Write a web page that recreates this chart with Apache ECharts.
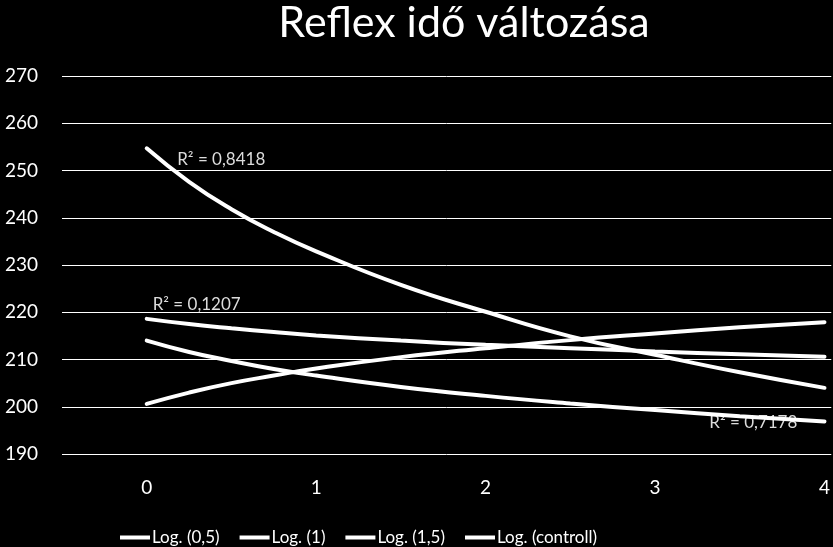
<!DOCTYPE html>
<html>
<head>
<meta charset="utf-8">
<script src="https://cdn.jsdelivr.net/npm/echarts@6/dist/echarts.min.js"></script>
<style>
    html, body { margin: 0; padding: 0; background: #000; }
    #chart { width: 833px; height: 547px; }
</style>
</head>
<body>
<div id="chart"></div>
<script>
// x positions
var xs = [0, 0.25, 0.5, 0.75, 1, 1.5, 2, 2.5, 3, 3.5, 4];
var xTicks = [0, 1, 2, 3, 4];

// trendline values
var log05 = [254.7, 247.6, 241.8, 237.0, 232.9, 225.8, 220.1, 214.9, 211.0, 207.3, 204.0];
var log1 = [218.6, 217.5, 216.6, 215.8, 215.1, 214.0, 213.1, 212.4, 211.7, 211.1, 210.6];
var log15 = [214.0, 211.6, 209.7, 208.0, 206.6, 204.2, 202.3, 200.7, 199.3, 198.0, 196.9];
var logCtrl = [200.6, 203.0, 205.0, 206.6, 208.1, 210.5, 212.4, 214.1, 215.5, 216.8, 217.9];

var names = ['Log. (0,5)', 'Log. (1)', 'Log. (1,5)', 'Log. (controll)'];
var r2Text = ['R² = 0,8418', 'R² = 0,1207', 'R² = 0,7178', null];
var r2At = [[0.18, 252.3], [0.035, 221.6], [3.32, 196.6], null];

var font = 'Lato, "Open Sans", sans-serif';

function pairs(vals) {
    return xs.map(function (x, i) { return [x, vals[i]]; });
}

var chart = echarts.init(document.getElementById('chart'));

var series = [log05, log1, log15, logCtrl].map(function (vals, i) {
    var s = {
        name: names[i],
        type: 'line',
        data: pairs(vals),
        smooth: true,
        symbol: 'none',
        lineStyle: { color: '#fff', width: 4, cap: 'round' },
        itemStyle: { color: '#fff' },
        z: 3
    };
    if (r2Text[i]) {
        s.markPoint = {
            symbol: 'circle',
            symbolSize: 0,
            silent: true,
            z: 2,
            label: {
                show: true,
                position: 'right',
                distance: 0,
                color: '#dcdcdc',
                fontFamily: font,
                fontSize: 17,
                formatter: r2Text[i]
            },
            data: [{ coord: r2At[i] }]
        };
    }
    return s;
});

var option = {
    backgroundColor: '#000',
    animation: false,
    title: {
        text: 'Reflex idő változása',
        left: 459,
        textAlign: 'center',
        top: -3,
        textStyle: { color: '#fff', fontFamily: font, fontSize: 43, fontWeight: 'normal' }
    },
    legend: {
        left: 115,
        top: 524,
        icon: 'rect',
        itemWidth: 30,
        itemHeight: 4,
        itemGap: 20,
        textStyle: { color: '#fff', fontFamily: font, fontSize: 17, padding: [0, 0, 0, -3] },
        data: names
    },
    grid: { left: 62, right: 0, top: 76, bottom: 93 },
    xAxis: {
        type: 'value',
        min: -0.5,
        max: 4.04,
        axisLine: { show: false },
        axisTick: { show: false },
        splitLine: { show: false },
        axisLabel: {
            customValues: xTicks,
            color: '#fff',
            fontFamily: font,
            fontSize: 19,
            margin: 24
        }
    },
    yAxis: {
        type: 'value',
        min: 190,
        max: 270,
        interval: 10,
        axisLine: { show: false },
        axisTick: { show: false },
        splitLine: { lineStyle: { color: '#fff', width: 1 } },
        axisLabel: { color: '#fff', fontFamily: font, fontSize: 19, margin: 24 }
    },
    series: series
};

chart.setOption(option);
</script>
</body>
</html>
